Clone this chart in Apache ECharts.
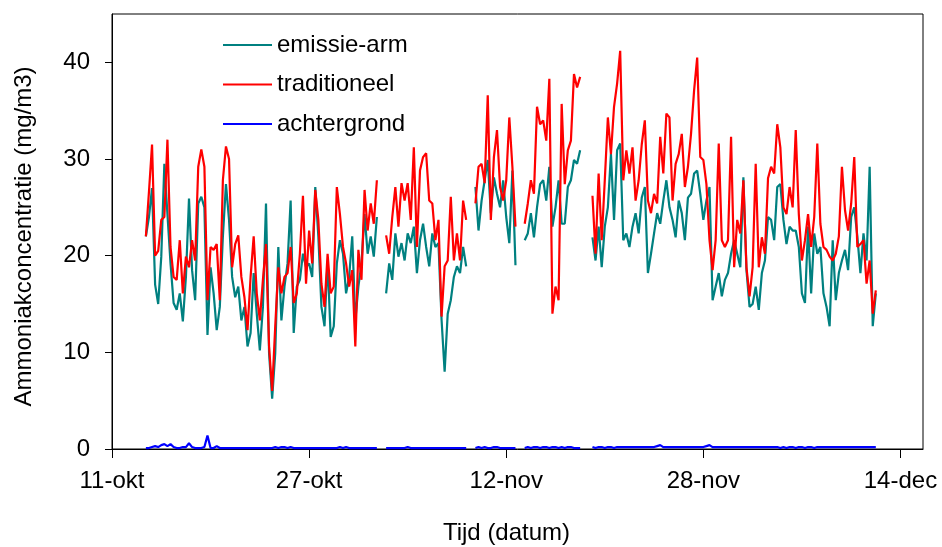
<!DOCTYPE html>
<html><head><meta charset="utf-8">
<script src="https://cdn.jsdelivr.net/npm/echarts@6/dist/echarts.min.js"></script>
<style>html,body{margin:0;padding:0;background:#fff}#c{width:942px;height:547px}</style>
</head><body><div id="c"></div>
<script>
// x axis: days since 11-okt
const tickDays = [0, 16, 32, 48, 64];
const tickLabels = ['11-okt', '27-okt', '12-nov', '28-nov', '14-dec'];
const yTicks = [0, 10, 20, 30, 40];
// measurements every 6 hours, first sample 13-okt 18:00
const sampleStartDay = 2.75;
const sampleStepDays = 0.25;

const emissieArm = [
  22,24,27,17,15,19.9,29.5,24.3,19.2,15.1,
  14.4,16.1,13.2,17.8,25.9,18.5,15.4,25.4,26.1,25,
  11.8,18.8,16.1,12.3,14.7,22,27.4,23.7,17.8,15.7,
  16.8,13.3,14.7,10.6,12,18.2,14,10.2,14.7,25.4,
  9.9,5.2,9.9,20.9,13.3,16.8,19.2,25.7,12,16.8,
  17.5,20.2,18.8,19.2,17.8,27.1,22,14.7,12.7,19.5,
  11.6,12.7,19.2,21.6,20.2,16.1,17.8,22,13.3,16.8,
  19.2,24.3,20.2,22,19.9,24,null,null,16.1,19.2,
  17.5,22.3,19.9,21.3,19.5,22.3,21.3,23,18.2,21.6,
  23.3,20.9,18.9,22.3,20.9,21.3,13.4,8,14,15.4,
  17.8,18.9,18.2,20.9,18.9,null,null,27.1,22.6,25.7,
  27.8,29.9,24.4,28.1,26.4,25,27.8,24,21.3,28.8,
  19,null,null,21.6,22.3,24.4,21.9,25,27.4,27.8,
  25.7,29.2,23,25,27.8,23.3,23.3,27.1,27.8,29.9,
  29.5,30.9,null,null,null,21.9,19.5,23,18.8,23,
  25,30.5,23.7,30.9,31.6,21.6,22.3,20.9,23,24.4,
  22.3,26,27.1,18.2,20.2,22.3,24.4,23.3,25.7,27.8,
  25,23.7,21.9,25.7,24.4,21.6,26,26.4,28.5,28.8,
  26.4,23.7,25.7,27.1,15.4,16.8,18.2,15.8,17.5,18.2,
  20.2,21.6,20.2,18.8,28.1,18.5,14.7,15,16.8,14.4,
  18.2,19.5,24,23.7,21.6,27.1,27.4,23.7,21.2,23,
  22.6,22.6,20.9,16.1,15.1,23,16.1,22.3,20.2,20.9,
  16.1,14.7,12.7,21.6,15.4,18.2,19.5,20.6,18.5,24,
  25,22,18.2,22.3,19.5,29.2,12.7,16.1
];

const traditioneel = [
  22,26.6,31.5,20,20.5,23.7,24,32,20.9,17.8,
  17.5,21.6,16.1,19.9,18.8,21.6,19.5,29.2,31,29.2,
  15.4,20.9,20.6,21.2,15.4,27.8,31.3,30,18.8,21.2,
  22.1,17.8,15.7,12.3,17.8,22,16.1,13.3,17.5,21.2,
  10.6,6,12.7,18.8,16.1,17.8,18.2,20.9,15.1,16.1,
  20.2,26.2,17.1,22.6,19.2,26.8,23.7,17.1,14.7,20.2,
  16.1,16.8,27.1,24.3,20.9,19.2,16.8,18.5,10.6,20.6,
  17.5,26.8,22.6,25.4,23.3,27.8,null,null,22.1,20.2,
  24,27.1,23,27.5,25.7,27.5,23.7,31.2,20.9,28.8,
  30.2,30.6,25.7,25.4,21.6,23.7,13.7,18.9,19.5,26.1,
  19.5,22.3,19.5,25.7,23.7,null,null,25.4,29.2,29.5,
  27.5,36.6,23.7,30.2,33,27.1,25.7,27.8,34.3,29.2,
  23,null,null,23.3,25.4,27.8,26.4,35.4,33.6,34,
  31.9,38.3,14,16.8,15.4,35.7,27.4,30.9,31.9,38.8,
  37.4,38.5,null,null,null,26.2,20.2,28.5,21.6,27.8,
  34.3,30.5,35.4,37.8,41.2,27.8,30.9,28.5,31.2,25.7,
  27.8,31.5,34,25.7,24.4,26.4,25.4,32.3,28.5,34.7,
  34.3,25.7,29.5,30.5,32.6,27.1,29.2,32.6,37.1,40.5,
  30.2,29.9,27.4,21.6,18.5,21.6,31.6,21.6,20.9,21.6,
  32.3,18.8,23.7,22.3,27.8,18.8,15.8,18.8,29.5,18.8,
  21.9,20.2,28,29.2,28.5,33.6,31.2,25,24.3,27.1,
  25,33,24.3,19.5,21.6,24.3,20.9,24,31.6,23.3,
  20.9,20.6,19.9,19.5,20.2,22,29.2,24.7,22.6,25.4,
  30.2,20.9,21.2,21.6,17.1,19.5,14,16.4
];

const achtergrond = [
  0.1,0.1,0.2,0.3,0.2,0.4,0.5,0.3,0.5,0.2,
  0.1,0.1,0.2,0.2,0.6,0.2,0.1,0.1,0.1,0.2,
  1.4,0.1,0.1,0.3,0.1,0.1,0.1,0.1,0.1,0.1,
  0.1,0.1,0.1,0.1,0.1,0.1,0.1,0.1,0.1,0.1,
  0.1,0.1,0.2,0.1,0.2,0.2,0.1,0.2,0.1,0.1,
  0.1,0.1,0.1,0.1,0.1,0.1,0.1,0.1,0.1,0.1,
  0.1,0.1,0.1,0.2,0.1,0.2,0.1,0.1,0.1,0.1,
  0.1,0.1,0.1,0.1,0.1,0.1,null,null,0.1,0.1,
  0.1,0.1,0.1,0.1,0.1,0.2,0.1,0.1,0.1,0.1,
  0.1,0.1,0.1,0.1,0.1,0.1,0.1,0.1,0.1,0.1,
  0.1,0.1,0.1,0.1,0.1,null,null,0.1,0.2,0.1,
  0.2,0.1,0.1,0.2,0.2,0.1,0.1,0.1,0.1,0.1,
  0.1,null,null,0.1,0.2,0.1,0.2,0.2,0.1,0.2,
  0.2,0.1,0.2,0.2,0.1,0.2,0.1,0.2,0.2,0.1,
  0.1,0.1,null,null,null,0.2,0.1,0.2,0.2,0.1,
  0.2,0.2,0.1,0.2,0.2,0.2,0.2,0.2,0.2,0.2,
  0.2,0.2,0.2,0.2,0.2,0.2,0.3,0.4,0.2,0.2,
  0.2,0.2,0.2,0.2,0.2,0.2,0.2,0.2,0.2,0.2,
  0.2,0.2,0.3,0.4,0.2,0.2,0.2,0.2,0.2,0.2,
  0.2,0.2,0.2,0.2,0.2,0.2,0.2,0.2,0.2,0.2,
  0.2,0.2,0.2,0.2,0.2,0.2,0.1,0.2,0.1,0.2,
  0.2,0.1,0.2,0.2,0.1,0.2,0.2,0.1,0.2,0.2,
  0.2,0.2,0.2,0.2,0.2,0.2,0.2,0.2,0.2,0.2,
  0.2,0.2,0.2,0.2,0.2,0.2,0.2,0.2
];

function toPoints(arr) {
  return arr.map((v, i) => [sampleStartDay + i * sampleStepDays, v === null ? '-' : v]);
}

const FONT = "'Liberation Sans', Arial, sans-serif";
const chart = echarts.init(document.getElementById('c'), null, { renderer: 'canvas' });
chart.setOption({
  animation: false,
  backgroundColor: '#fff',
  textStyle: { fontFamily: FONT, color: '#000' },
  grid: { left: 112, right: 19, top: 14, bottom: 98, show: true, borderColor: '#000', borderWidth: 1, containLabel: false, outerBoundsMode: 'none' },
  legend: {
    orient: 'vertical', left: 223, top: 33, padding: 0,
    icon: 'rect', itemWidth: 49, itemHeight: 2, itemGap: 15.5,
    textStyle: { fontFamily: FONT, fontSize: 24, color: '#000', lineHeight: 24 },
    data: ['emissie-arm', 'traditioneel', 'achtergrond']
  },
  xAxis: {
    type: 'value', min: 0, max: 65.83,
    name: 'Tijd (datum)', nameLocation: 'middle', nameGap: 72,
    nameTextStyle: { fontFamily: FONT, fontSize: 24, color: '#000', padding: [0, 22, 0, 0] },
    axisLine: { lineStyle: { color: '#000', width: 1 } },
    axisTick: { show: true, length: 9, inside: false, customValues: tickDays, lineStyle: { color: '#000' } },
    axisLabel: { customValues: tickDays, margin: 20, fontFamily: FONT, fontSize: 24, color: '#000',
      formatter: v => { const k = tickDays.indexOf(v); return k >= 0 ? tickLabels[k] : ''; } },
    splitLine: { show: false }
  },
  yAxis: {
    type: 'value', min: 0, max: 45,
    name: 'Ammoniakconcentratie (mg/m3)', nameLocation: 'middle', nameGap: 76,
    nameTextStyle: { fontFamily: FONT, fontSize: 24, color: '#000', padding: [0, 10, 0, 0] },
    axisLine: { show: true, lineStyle: { color: '#000', width: 1 } },
    axisTick: { show: true, length: 7, inside: false, customValues: yTicks, lineStyle: { color: '#000' } },
    axisLabel: { customValues: yTicks, margin: 22, fontFamily: FONT, fontSize: 24, color: '#000' },
    splitLine: { show: false }
  },
  series: [
    { name: 'emissie-arm', type: 'line', data: toPoints(emissieArm), symbol: 'none', connectNulls: false,
      lineStyle: { color: '#008080', width: 2.2 }, itemStyle: { color: '#008080' } },
    { name: 'traditioneel', type: 'line', data: toPoints(traditioneel), symbol: 'none', connectNulls: false,
      lineStyle: { color: '#FF0000', width: 2.2 }, itemStyle: { color: '#FF0000' } },
    { name: 'achtergrond', type: 'line', data: toPoints(achtergrond), symbol: 'none', connectNulls: false,
      lineStyle: { color: '#0000FF', width: 2.2 }, itemStyle: { color: '#0000FF' } }
  ]
});
</script>
</body></html>
